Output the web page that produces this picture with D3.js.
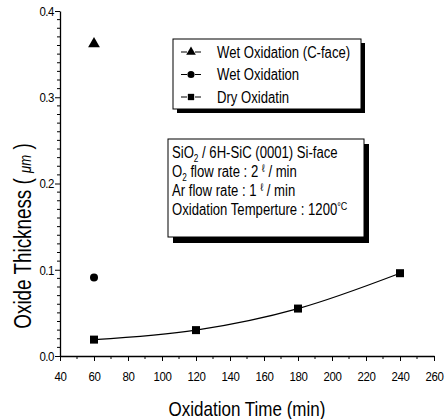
<!DOCTYPE html>
<html>
<head>
<meta charset="utf-8">
<script src="https://cdnjs.cloudflare.com/ajax/libs/d3/7.8.5/d3.min.js"></script>
<style>
  body { margin: 0; background: #fff; }
  text { font-family: "Liberation Sans", Arial, sans-serif; fill: #000; }
</style>
</head>
<body>
<div id="chart"></div>
<script>
let width = 447,
	height = 419;

// data
let wetC = [{t: 60, v: 0.362}];
let wet = [{t: 60, v: 0.091}];
let dry = [{t: 60, v: 0.019}, {t: 120, v: 0.030}, {t: 180, v: 0.055}, {t: 240, v: 0.096}];

let xTicks = [40, 60, 80, 100, 120, 140, 160, 180, 200, 220, 240, 260];
let yTicks = [0.0, 0.1, 0.2, 0.3, 0.4];

let legendLabels = ["Wet Oxidation (C-face)", "Wet Oxidation", "Dry Oxidatin"];

let svg = d3.select('#chart').append('svg')
	.attr('width', width)
	.attr('height', height)

// the original lettering is a narrow font, so squeeze Liberation Sans sideways
function ntext(parent, tx, ty, k, size, rot) {
	let g = parent.append("g")
		.attr("transform", "translate(" + tx + "," + ty + ")" + (rot ? " rotate(" + rot + ")" : "") + " scale(" + k + ",1)");
	return g.append("text").style("font-size", size + "px");
}

let x = d3.scaleLinear().domain([40, 260]).range([60, 434]);
let y = d3.scaleLinear().domain([0, 0.4]).range([356, 11]);

// axes
let xAxis = d3.axisBottom(x).tickValues(xTicks).tickSize(5).tickSizeOuter(0).tickPadding(10);
let yAxis = d3.axisLeft(y).tickValues(yTicks).tickFormat(d3.format(".1f")).tickSize(5).tickSizeOuter(0).tickPadding(2);

let gx = svg.append("g")
	.attr("transform", "translate(0," + y(0) + ")")
	.call(xAxis);
gx.selectAll("text")
	.attr("transform", "scale(0.85,1)")
	.style("font-size", "13.5px").style("letter-spacing", "-0.5px");

let gy = svg.append("g")
	.attr("transform", "translate(" + x(40) + ",0)")
	.call(yAxis);
gy.selectAll("text")
	.attr("transform", "scale(0.85,1)")
	.style("font-size", "13.5px").style("letter-spacing", "-0.5px");

svg.selectAll(".domain").attr("stroke-width", 1.3);

// minor ticks
svg.append("g").selectAll("line")
	.data(d3.range(50, 260, 20))
	.enter().append("line")
	.attr("x1", d => x(d)).attr("x2", d => x(d))
	.attr("y1", y(0)).attr("y2", y(0) + 3)
	.attr("stroke", "#000");

svg.append("g").selectAll("line")
	.data(d3.range(1, 40).filter(i => i % 10 !== 0).map(i => i / 100))
	.enter().append("line")
	.attr("x1", x(40) - 3).attr("x2", x(40))
	.attr("y1", d => y(d)).attr("y2", d => y(d))
	.attr("stroke", "#000");

// axis titles
ntext(svg, 247, 416, 0.81, 21)
	.attr("text-anchor", "middle")
	.text("Oxidation Time (min)");

let yt = ntext(svg, 31, 236, 0.82, 23, -90)
	.attr("text-anchor", "middle");
yt.append("tspan").text("Oxide Thickness ( ");
yt.append("tspan").style("font-style", "italic").style("font-size", "16px").text("\u03BCm");
yt.append("tspan").text(" )");

// dry oxidation curve
let line = d3.line()
	.x(d => x(d.t))
	.y(d => y(d.v))
	.curve(d3.curveMonotoneX);

svg.append("path")
	.datum(dry)
	.attr("d", line)
	.attr("fill", "none")
	.attr("stroke", "#000")
	.attr("stroke-width", 1.2);

svg.selectAll(".sq")
	.data(dry)
	.enter().append("rect").classed("sq", true)
	.attr("x", d => x(d.t) - 4).attr("y", d => y(d.v) - 4)
	.attr("width", 8).attr("height", 8)
	.attr("fill", "#000");

svg.selectAll(".circ")
	.data(wet)
	.enter().append("circle").classed("circ", true)
	.attr("cx", d => x(d.t)).attr("cy", d => y(d.v))
	.attr("r", 4)
	.attr("fill", "#000");

let tri = d3.symbol().type(d3.symbolTriangle).size(60);
svg.selectAll(".tri")
	.data(wetC)
	.enter().append("path").classed("tri", true)
	.attr("transform", d => "translate(" + x(d.t) + "," + y(d.v) + ")")
	.attr("d", tri)
	.attr("fill", "#000");

// legend box
let lg = svg.append("g");
lg.append("rect").attr("x", 177).attr("y", 43).attr("width", 188).attr("height", 70).attr("fill", "#000");
lg.append("rect").attr("x", 173).attr("y", 39).attr("width", 188).attr("height", 70)
	.attr("fill", "#fff").attr("stroke", "#000").attr("stroke-width", 1);

let symbols = [d3.symbolTriangle, d3.symbolCircle, d3.symbolSquare];
legendLabels.forEach(function (lab, i) {
	let yy = 52 + i * 22.5;
	lg.append("line").attr("x1", 181).attr("x2", 187).attr("y1", yy).attr("y2", yy).attr("stroke", "#000");
	lg.append("line").attr("x1", 195).attr("x2", 201).attr("y1", yy).attr("y2", yy).attr("stroke", "#000");
	lg.append("path")
		.attr("transform", "translate(191," + yy + ")")
		.attr("d", d3.symbol().type(symbols[i]).size(40))
		.attr("fill", "#000");
	ntext(lg, 217, yy + 5.5, 0.82, 16).text(lab);
});

// conditions box
let cb = svg.append("g");
cb.append("rect").attr("x", 173).attr("y", 144).attr("width", 196).attr("height", 99).attr("fill", "#000");
cb.append("rect").attr("x", 168).attr("y", 139).attr("width", 196).attr("height", 98)
	.attr("fill", "#fff").attr("stroke", "#000").attr("stroke-width", 1);

let k = 0.82, fs = 16;
let t1 = ntext(cb, 172, 158, k, fs);
t1.append("tspan").text("SiO");
t1.append("tspan").attr("dy", 4).style("font-size", "10px").text("2");
t1.append("tspan").attr("dy", -4).text(" / 6H-SiC (0001) Si-face");

let t2 = ntext(cb, 172, 177, k, fs);
t2.append("tspan").text("O");
t2.append("tspan").attr("dy", 4).style("font-size", "10px").text("2");
t2.append("tspan").attr("dy", -4).text(" flow rate : 2  ");
t2.append("tspan").attr("dy", -5).style("font-size", "11px").text("\u2113");
t2.append("tspan").attr("dy", 5).text(" / min");

let t3 = ntext(cb, 172, 196, k, fs);
t3.append("tspan").text("Ar flow rate : 1  ");
t3.append("tspan").attr("dy", -5).style("font-size", "11px").text("\u2113");
t3.append("tspan").attr("dy", 5).text(" / min");

let t4 = ntext(cb, 172, 215, k, fs);
t4.append("tspan").text("Oxidation Temperture : 1200");
t4.append("tspan").attr("dy", -5).style("font-size", "11px").text("\u00B0C");
</script>
</body>
</html>
